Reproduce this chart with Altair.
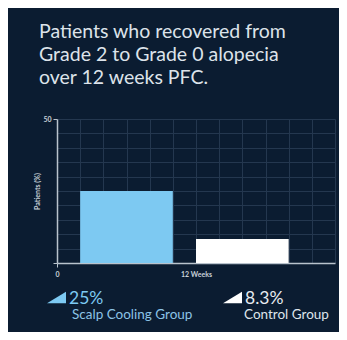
import altair as alt
import pandas as pd

groups = ["Scalp Cooling Group", "Control Group"]
values = [25, 8.3]
pct_labels = ["25%", "8.3%"]
bar_start = [1, 6]
bar_end = [5, 10]
colors = ["#7dc9f2", "#ffffff"]
name_colors = ["#8cc3e6", "#dfe5ec"]

title_lines = ["Patients who recovered from", "Grade 2 to Grade 0 alopecia", "over 12 weeks PFC."]

BG = "#0b1c31"
GRID = "#24374f"
AXIS = "#b9c3cd"
FONT = "Lato"

df = pd.DataFrame({"group": groups, "value": values, "start": bar_start, "end": bar_end})

xscale = alt.Scale(domain=[0, 12], nice=False)
yscale = alt.Scale(domain=[0, 50], nice=False)

bars = alt.Chart(df).mark_bar().encode(
    x=alt.X("start:Q", scale=xscale,
            axis=alt.Axis(values=list(range(0, 13)),
                          labelExpr="datum.value == 0 ? '0' : (datum.value == 6 ? '12 Weeks' : '')",
                          title=None, grid=True, gridColor=GRID, gridWidth=1,
                          domainColor=AXIS, domainWidth=1.5,
                          tickColor=AXIS, tickSize=4,
                          tickOpacity={"condition": {"test": "datum.value == 0", "value": 1}, "value": 0},
                          labelColor="#c8d0d8", labelFontSize=7, labelFont=FONT, labelFontWeight="bold",
                          labelPadding=3, labelFlush=False)),
    x2="end:Q",
    y=alt.Y("value:Q", scale=yscale,
            axis=alt.Axis(values=list(range(0, 55, 5)),
                          labelExpr="datum.value == 50 ? '50' : ''",
                          title="Patients (%)", titleFontSize=7, titleFont=FONT, titleColor="#c8d0d8",
                          titleFontWeight="bold", titlePadding=2,
                          grid=True, gridColor=GRID, gridWidth=1,
                          domainColor=AXIS, domainWidth=1.5,
                          tickColor=AXIS, tickSize=4,
                          tickOpacity={"condition": {"test": "datum.value == 50 || datum.value == 0", "value": 1}, "value": 0},
                          labelColor="#c8d0d8", labelFontSize=7, labelFont=FONT, labelFontWeight="bold",
                          labelPadding=2)),
    y2=alt.datum(0),
    color=alt.Color("group:N", scale=alt.Scale(domain=groups, range=colors), legend=None),
)

tri_x = [-0.5, 175.5]
pct_x = [12, 188]
name_x = [15, 187]
layers = [bars]
for i in range(2):
    sub = df.iloc[[i]]
    layers.append(alt.Chart(sub).mark_point(
        shape="M1,-0.6L1,0.6L-1,0.6Z", filled=True, opacity=1, size=361, color=colors[i]
    ).encode(x=alt.value(tri_x[i]), y=alt.value(178.5)))
    layers.append(alt.Chart(pd.DataFrame({"t": [pct_labels[i]]})).mark_text(
        align="left", baseline="alphabetic", fontSize=17.5, font=FONT, color=colors[i] if i == 0 else "#e6ebf0"
    ).encode(x=alt.value(pct_x[i]), y=alt.value(184.5), text="t:N"))
    layers.append(alt.Chart(pd.DataFrame({"t": [groups[i]]})).mark_text(
        align="left", baseline="alphabetic", fontSize=13.5, font=FONT, color=name_colors[i]
    ).encode(x=alt.value(name_x[i]), y=alt.value(200), text="t:N"))

chart = alt.layer(*layers).properties(
    width=278, height=144,
    autosize=alt.AutoSizeParams(type="none"),
    padding={"left": 49, "top": 111, "right": 4, "bottom": 69},
    background=BG,
    title=alt.TitleParams(text=title_lines, anchor="start", frame="group", dx=-18, offset=27,
                          fontSize=19.5, lineHeight=23, font=FONT, fontWeight="normal", color="#dde3ea"),
).configure_view(stroke=None)

chart.save("out.html", embed_options={"renderer": "svg", "actions": False})
